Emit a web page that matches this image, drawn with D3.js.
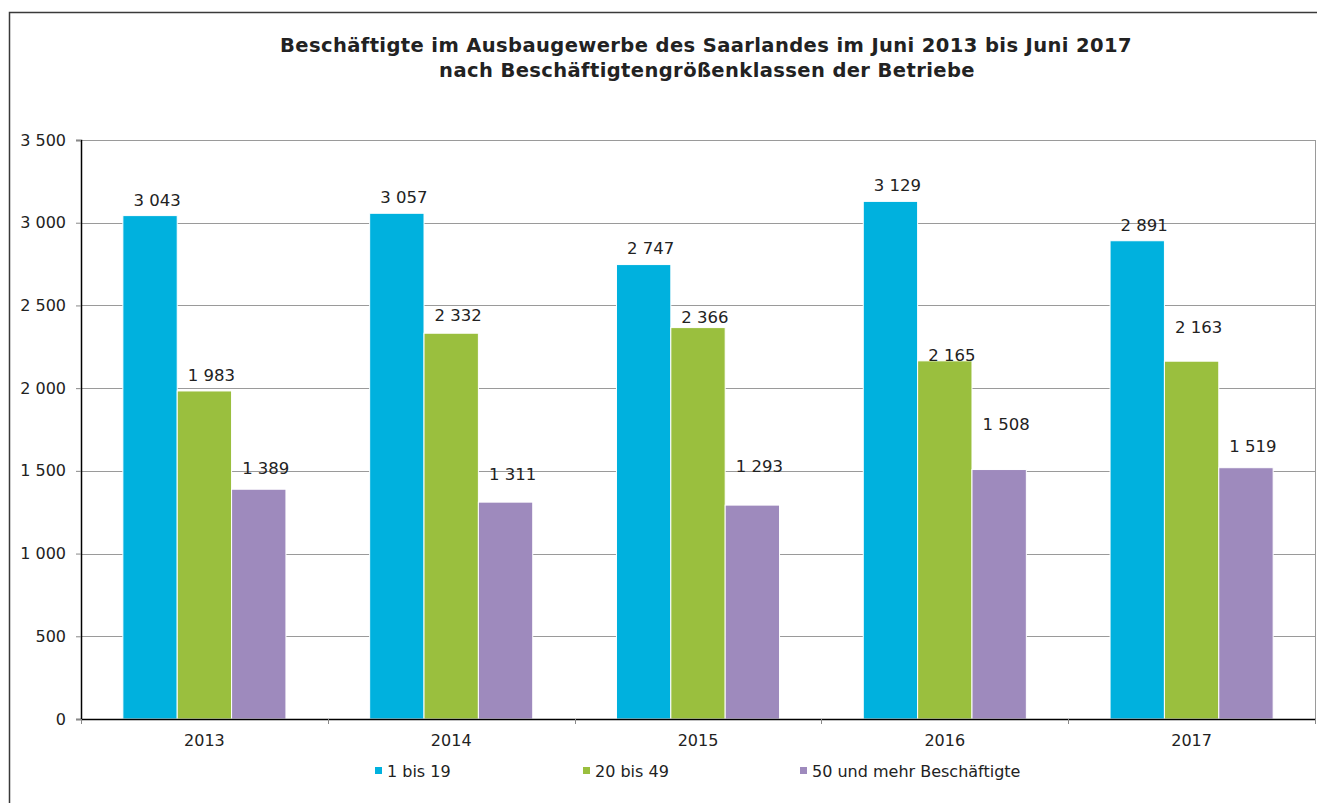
<!DOCTYPE html>
<html>
<head>
<meta charset="utf-8">
<script src="https://cdn.jsdelivr.net/npm/d3@7"></script>
<style>
  body { margin: 0; background: #fff; }
  text { font-family: "DejaVu Sans", Verdana, sans-serif; fill: #222; }
</style>
</head>
<body>
<div id="chart"></div>
<script>
// chart data
const years = ['2013', '2014', '2015', '2016', '2017'];
const seriesNames = ['1 bis 19', '20 bis 49', '50 und mehr Beschäftigte'];
const small = [3043, 3057, 2747, 3129, 2891];
const medium = [1983, 2332, 2366, 2165, 2163];
const large = [1389, 1311, 1293, 1508, 1519];
const yTicks = [0, 500, 1000, 1500, 2000, 2500, 3000, 3500];
// where the value labels sit in the source (in value units)
const smallLabelAt = [3138, 3156, 2848, 3228, 2987];
const mediumLabelAt = [2076, 2438, 2426, 2202, 2371];
const largeLabelAt = [1515, 1478, 1527, 1780, 1647];

const colors = ['#00b1de', '#9abf3e', '#9e8abd'];
const values = [small, medium, large];
const labelAt = [smallLabelAt, mediumLabelAt, largeLabelAt];

const W = 1317, H = 803;
const plot = { left: 81, right: 1315, top: 140, bottom: 719 };

const fmt = v => d3.format(',')(v).replace(/,/g, ' ');

const svg = d3.select('#chart').append('svg')
  .attr('width', W).attr('height', H);

// outer frame (right and bottom edges fall outside the picture)
svg.append('rect')
  .attr('x', 9.5).attr('y', 12.5)
  .attr('width', W + 20).attr('height', H + 20)
  .attr('fill', 'none').attr('stroke', '#3a3a3a').attr('stroke-width', 1.5);

// title
const title = svg.append('text')
  .attr('text-anchor', 'middle')
  .style('font-weight', 'bold').style('font-size', '19.5px')
  .style('letter-spacing', '0.4px');
title.append('tspan').attr('x', 706).attr('y', 52)
  .text('Beschäftigte im Ausbaugewerbe des Saarlandes im Juni 2013 bis Juni 2017');
title.append('tspan').attr('x', 707).attr('y', 77)
  .text('nach Beschäftigtengrößenklassen der Betriebe');

// scales
const x0 = d3.scaleBand().domain(years).range([plot.left, plot.right]).padding(0);
const x1 = d3.scaleBand().domain(d3.range(3)).range([0, x0.bandwidth()])
  .paddingInner(0).paddingOuter(0.77);
const y = d3.scaleLinear().domain([0, 3500]).range([plot.bottom, plot.top]);

// gridlines
svg.append('g').selectAll('line')
  .data(yTicks.filter(d => d > 0))
  .join('line')
  .attr('x1', plot.left).attr('x2', plot.right)
  .attr('y1', d => Math.round(y(d)) + 0.5).attr('y2', d => Math.round(y(d)) + 0.5)
  .attr('stroke', '#9a9a9a').attr('stroke-width', 1);

// right border of plot area
svg.append('line')
  .attr('x1', plot.right + 0.5).attr('x2', plot.right + 0.5)
  .attr('y1', plot.top).attr('y2', plot.bottom)
  .attr('stroke', '#9a9a9a');

// bars
const groups = svg.append('g').selectAll('g')
  .data(years)
  .join('g')
  .attr('transform', d => `translate(${x0(d)},0)`);

groups.selectAll('rect')
  .data((d, i) => values.map((s, k) => ({ k, v: s[i] })))
  .join('rect')
  .attr('x', d => x1(d.k))
  .attr('width', x1.bandwidth())
  .attr('y', d => y(d.v))
  .attr('height', d => y(0) - y(d.v))
  .attr('fill', d => colors[d.k])
  .attr('stroke', '#fff').attr('stroke-width', 1);

// value labels (sit a little right of the bar centre, as in the source)
groups.selectAll('text')
  .data((d, i) => values.map((s, k) => ({ k, v: s[i], at: labelAt[k][i] })))
  .join('text')
  .attr('x', d => x1(d.k) + x1.bandwidth() / 2 + 7)
  .attr('y', d => y(d.at))
  .attr('dy', '0.35em')
  .attr('text-anchor', 'middle')
  .style('font-size', '16.5px')
  .text(d => fmt(d.v));

// y axis
const yAxis = svg.append('g')
  .attr('transform', `translate(${plot.left},0)`)
  .call(d3.axisLeft(y).tickValues(yTicks).tickFormat(fmt).tickSize(5).tickPadding(10));
yAxis.select('.domain').attr('stroke', '#000').attr('stroke-width', 1.5);
yAxis.selectAll('.tick line').attr('stroke', '#888');
yAxis.selectAll('.tick text').style('font-size', '16px').style('font-family', '"DejaVu Sans", Verdana, sans-serif').attr('fill', '#222');

// x axis
const xAxis = svg.append('g')
  .attr('transform', `translate(0,${plot.bottom})`)
  .call(d3.axisBottom(x0).tickSize(0).tickPadding(16));
xAxis.select('.domain').attr('stroke', '#000').attr('stroke-width', 1.5);
xAxis.selectAll('.tick text').style('font-size', '16px').style('font-family', '"DejaVu Sans", Verdana, sans-serif').attr('fill', '#222');

// tick marks between categories
svg.append('g').selectAll('line')
  .data(years.concat(['end']))
  .join('line')
  .attr('x1', (d, i) => Math.round(plot.left + i * x0.step()) + 0.5)
  .attr('x2', (d, i) => Math.round(plot.left + i * x0.step()) + 0.5)
  .attr('y1', plot.bottom).attr('y2', plot.bottom + 5)
  .attr('stroke', '#888');

// legend
const legendX = [375, 583, 800];
const legend = svg.append('g').selectAll('g')
  .data(seriesNames)
  .join('g')
  .attr('transform', (d, i) => `translate(${legendX[i]},771)`);
legend.append('rect')
  .attr('x', 0).attr('y', -4).attr('width', 7).attr('height', 7)
  .attr('fill', (d, i) => colors[i]);
legend.append('text')
  .attr('x', 12).attr('dy', '0.35em')
  .style('font-size', '16px')
  .text(d => d);
</script>
</body>
</html>
